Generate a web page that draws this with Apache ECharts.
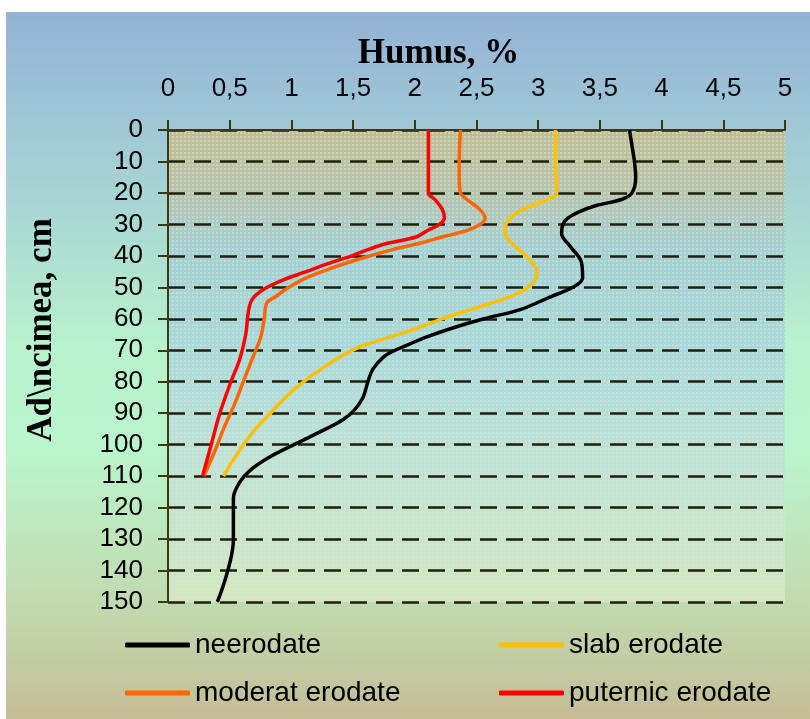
<!DOCTYPE html>
<html><head><meta charset="utf-8">
<script src="https://cdn.jsdelivr.net/npm/echarts@6/dist/echarts.min.js"></script>
<style>html,body{margin:0;padding:0;background:#fff}#c{width:810px;height:719px}</style>
</head><body><div id="c"></div>
<script>
// ---- data ----
const xTickLabels = ['0','0,5','1','1,5','2','2,5','3','3,5','4','4,5','5'];
const seriesNames = ['neerodate','slab erodate','moderat erodate','puternic erodate'];

const depthNeerodate = [0,5,10,15,20,22,24,26,28,30,33,37,42,47,50,53,57,60,63,66,68,70,72,76,80,85,89,92,95,100,104,108,112,117,130,150];
const humusNeerodate = [3.74,3.76,3.78,3.79,3.76,3.68,3.47,3.33,3.24,3.20,3.19,3.26,3.35,3.36,3.28,3.10,2.86,2.56,2.30,2.08,1.96,1.84,1.75,1.66,1.62,1.58,1.51,1.42,1.28,1.02,0.82,0.67,0.58,0.53,0.53,0.40];

const depthSlab = [0,10,20,22,24,26,29,32,35,40,45,48,51,54,57,60,63,66,69,72,76,80,84,90,95,99,103,106,110];
const humusSlab = [3.14,3.14,3.15,3.08,2.95,2.84,2.75,2.73,2.76,2.90,2.99,2.97,2.88,2.70,2.46,2.22,2.02,1.78,1.55,1.40,1.24,1.10,0.98,0.83,0.71,0.63,0.56,0.51,0.45];

const depthModerat = [0,10,15,20,22,25,28,30,32,34,36,38,41,44,47,50,53,55,60,66,72,80,88,95,102,110];
const humusModerat = [2.37,2.36,2.36,2.37,2.42,2.52,2.57,2.53,2.42,2.22,2.04,1.82,1.55,1.32,1.12,0.98,0.87,0.80,0.78,0.75,0.69,0.61,0.53,0.45,0.38,0.29];

const depthPuternic = [0,10,20,22,25,28,30,32,34,36,38,40,42,45,48,51,54,58,65,73,80,90,100,110];
const humusPuternic = [2.11,2.11,2.11,2.16,2.22,2.24,2.20,2.10,2.01,1.78,1.62,1.49,1.33,1.12,0.91,0.76,0.68,0.65,0.63,0.58,0.51,0.42,0.35,0.28];

const seriesColors = ['#000000','#FFC000','#FF6600','#FF0000'];

// ---- chart ----
const chart = echarts.init(document.getElementById('c'), null, {renderer:'canvas'});

const pc = document.createElement('canvas');
pc.width = 4; pc.height = 4;
const pg = pc.getContext('2d');
pg.fillStyle = 'rgba(190,245,215,0.5)';
pg.fillRect(0,0,2,2);

function pairs(depths, values){ return depths.map((d,i)=>[values[i], d]); }
const allData = [
  pairs(depthNeerodate, humusNeerodate),
  pairs(depthSlab, humusSlab),
  pairs(depthModerat, humusModerat),
  pairs(depthPuternic, humusPuternic)
];

const labelFont = 'Liberation Sans, Arial, sans-serif';
const titleFont = 'Liberation Serif, Times New Roman, serif';
const axisColor = '#3a3a12';

const series = allData.map((d,i)=>({
  name: seriesNames[i], type:'line', data:d, showSymbol:false, smooth:0.35,
  lineStyle:{width:3.5, color:seriesColors[i]}, itemStyle:{color:seriesColors[i]},
  emphasis:{disabled:true}
}));

const outerBg = {
  type:'rect', z:-1, z2:0, silent:true,
  shape:{x:6, y:12, width:804, height:707},
  style:{fill:new echarts.graphic.LinearGradient(0,0,0,1,[
    {offset:0, color:'#94B2D6'},
    {offset:0.17, color:'#A0C9D6'},
    {offset:0.27, color:'#A8D6D4'},
    {offset:0.48, color:'#B8F2CD'},
    {offset:0.62, color:'#BAF5CC'},
    {offset:0.85, color:'#C2D8AE'},
    {offset:1, color:'#C5BC96'}
  ])}
};

chart.setOption({
  backgroundColor:'transparent',
  animation:false,
  graphic:[outerBg],
  grid:{left:168, right:25, top:130, bottom:117, outerBoundsMode:'none', containLabel:false, show:false},
  xAxis:{
    type:'value', position:'top', min:0, max:5, interval:0.5,
    name:'Humus, %', nameLocation:'middle', nameGap:56,
    nameTextStyle:{fontFamily:titleFont, fontWeight:'bold', fontSize:35, color:'#000', padding:[0,76,0,0]},
    axisLine:{show:true, lineStyle:{color:axisColor, width:2}},
    axisTick:{show:true, length:10, lineStyle:{color:axisColor, width:2}},
    axisLabel:{margin:28, fontSize:26, fontFamily:labelFont, color:'#000',
      formatter:(v)=>xTickLabels[Math.round(v/0.5)]},
    splitLine:{show:false}
  },
  yAxis:{
    type:'value', inverse:true, min:0, max:150, interval:10,
    name:'Ad\\ncimea, cm', nameLocation:'middle', nameRotate:90, nameGap:109,
    nameTextStyle:{fontFamily:titleFont, fontWeight:'bold', fontSize:35, color:'#000', padding:[0,0,0,72]},
    axisLine:{show:true, lineStyle:{color:axisColor, width:2}},
    axisTick:{show:true, length:10, lineStyle:{color:axisColor, width:2}},
    axisLabel:{margin:25, fontSize:26, fontFamily:labelFont, color:'#000'},
    splitLine:{show:true, lineStyle:{type:[17,9], width:2.5, color:'#1f1f0a'}}
  },
  legend:[
    {data:[seriesNames[0], seriesNames[2]], orient:'vertical', left:120, top:626, itemWidth:65, itemHeight:5, itemGap:20,
      icon:'roundRect', selectedMode:false, textStyle:{fontSize:28, fontFamily:labelFont, color:'#000'}},
    {data:[seriesNames[1], seriesNames[3]], orient:'vertical', left:494, top:626, itemWidth:65, itemHeight:5, itemGap:20,
      icon:'roundRect', selectedMode:false, textStyle:{fontSize:28, fontFamily:labelFont, color:'#000'}}
  ],
  series:series
});

// plot-area fill placed from the axes' own scales
const p0 = chart.convertToPixel({gridIndex:0}, [0, 0]);
const p1 = chart.convertToPixel({gridIndex:0}, [5, 150]);
const px = Math.min(p0[0], p1[0]), py = Math.min(p0[1], p1[1]);
const pw = Math.abs(p1[0]-p0[0]), ph = Math.abs(p1[1]-p0[1]);
chart.setOption({
  graphic:[
    outerBg,
    {type:'rect', z:-1, z2:1, silent:true, shape:{x:px, y:py, width:pw, height:ph},
      style:{fill:new echarts.graphic.LinearGradient(0,0,0,1,[
        {offset:0, color:'#C6BA95'},
        {offset:0.1, color:'#C0BFA5'},
        {offset:0.25, color:'#A8CDD4'},
        {offset:0.45, color:'#ABD6DC'},
        {offset:0.7, color:'#C3E0D6'},
        {offset:1, color:'#D8E4BE'}
      ])}},
    {type:'rect', z:-1, z2:2, silent:true, shape:{x:px, y:py, width:pw, height:ph},
      style:{fill:{image:pc, repeat:'repeat'}}}
  ]
});
</script></body></html>
